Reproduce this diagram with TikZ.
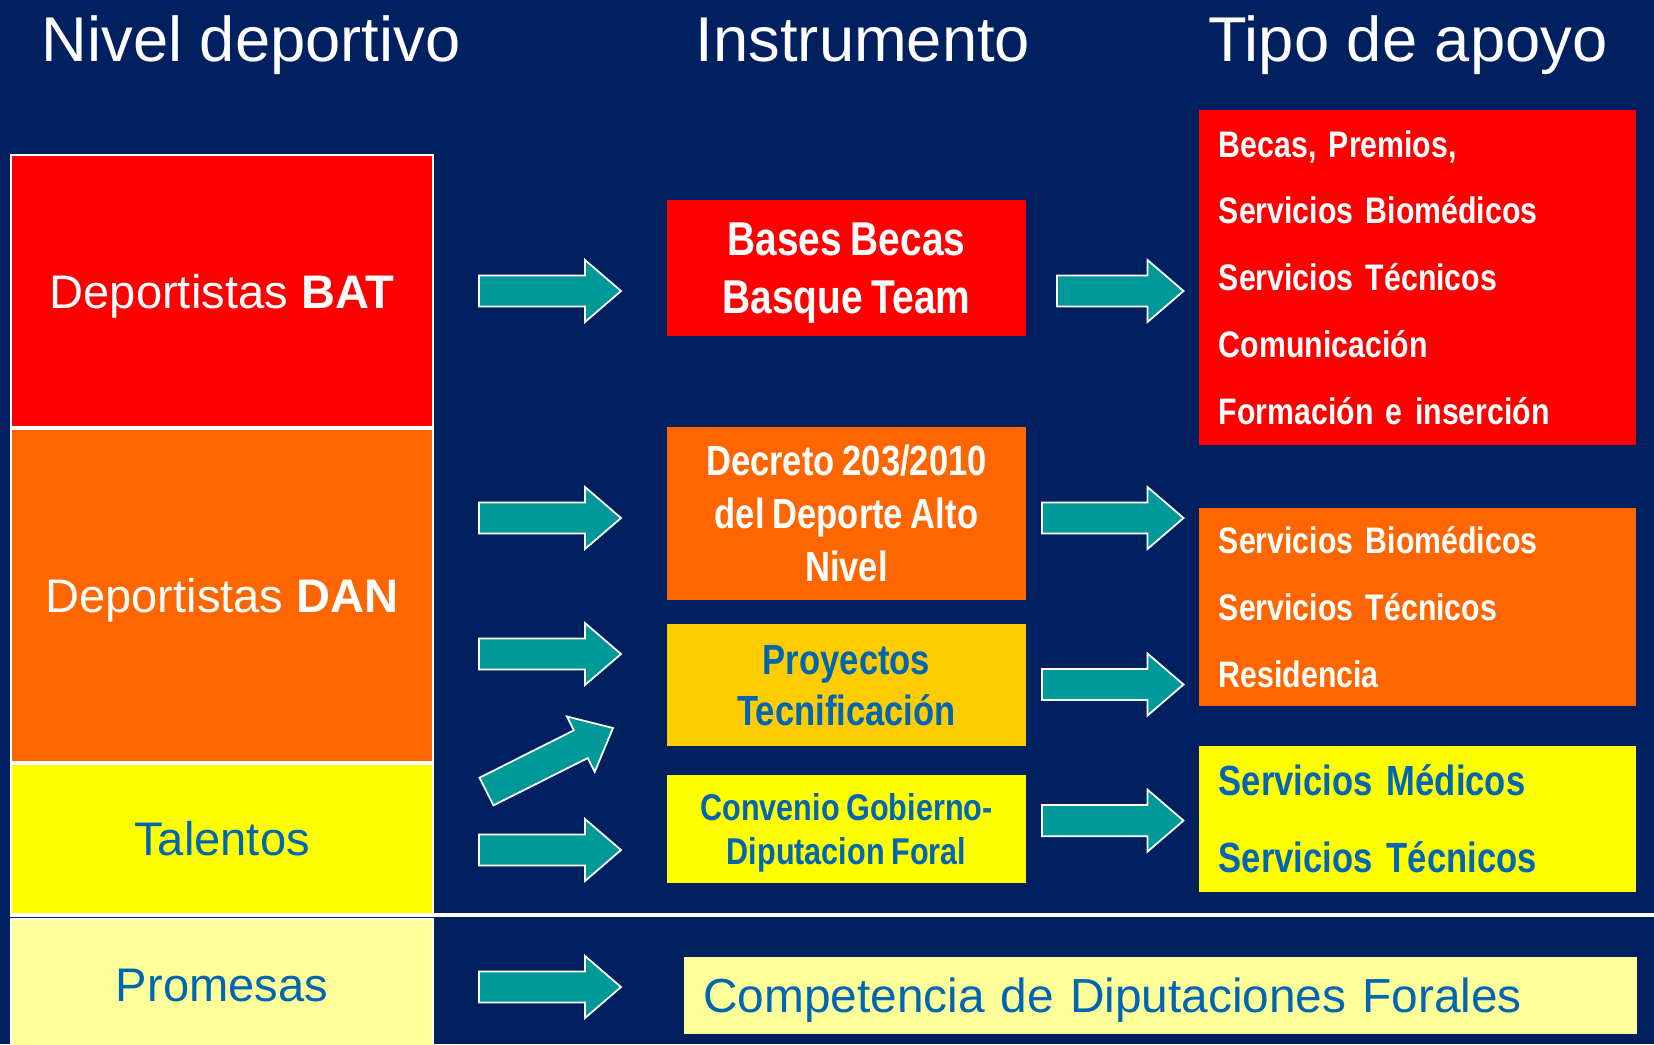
\documentclass[tikz,border=0pt]{standalone}
\usepackage{fontspec}
\setmainfont{Liberation Sans}
\newfontfamily\narrowfont[FakeStretch=0.82, WordSpace=0.8]{Liberation Sans}
\usetikzlibrary{calc, positioning}
\definecolor{navy}{RGB}{0,32,96}
\definecolor{batred}{RGB}{255,0,0}
\definecolor{danorange}{RGB}{255,102,0}
\definecolor{tecgold}{RGB}{255,204,0}
\definecolor{talyellow}{RGB}{255,255,0}
\definecolor{promyellow}{RGB}{255,255,153}
\definecolor{textblue}{RGB}{0,102,179}
\definecolor{arrowteal}{RGB}{0,153,153}
\tikzstyle{level} = [rectangle, draw=white, line width=0.5pt, minimum width=4.22cm, text centered, text depth=0pt, font=\fontsize{13.4}{16}\selectfont]
\tikzstyle{instr} = [rectangle, minimum width=3.59cm, text depth=0pt, align=center]
\tikzstyle{apoyo} = [rectangle, minimum width=4.37cm, text width=3.97cm, inner xsep=0.2cm, align=left]
\tikzstyle{title} = [text=white, anchor=base, font=\fontsize{18}{22}\selectfont]
\tikzstyle{barrow} = [fill=arrowteal, draw=white, line width=0.5pt, line join=miter]
\newcommand{\blockarrow}[2]{%
	\coordinate (#1-#2-h) at ($(#2)!0.36cm!(#1)$);
	\draw[barrow] ($(#1)!0.155cm!90:(#2)$) -- ($(#1-#2-h)!0.155cm!90:(#2)$) -- ($(#1-#2-h)!0.31cm!90:(#2)$) -- (#2)
		-- ($(#1-#2-h)!0.31cm!-90:(#2)$) -- ($(#1-#2-h)!0.155cm!-90:(#2)$) -- ($(#1)!0.155cm!-90:(#2)$) -- cycle;
}

\begin{document}
\begin{tikzpicture}[x=0.01cm, y=-0.01cm]
		\fill[navy] (0,0) rectangle (1654,1044);
		\useasboundingbox (0,0) rectangle (1654,1044);
		
		\node (TitleNivel) [title] at (251,61) {Nivel deportivo};
		\node (TitleInstr) [title] at (863,61) {Instrumento};
		\node (TitleApoyo) [title] at (1408,61) {Tipo de apoyo};
		
		\node (BAT) [level, fill=batred, text=white, minimum height=2.72cm] at (222,291) {Deportistas \textbf{BAT}};
		\node (DAN) [level, fill=danorange, text=white, minimum height=3.33cm, below = 0pt of BAT] {Deportistas \textbf{DAN}};
		\node (Talentos) [level, fill=talyellow, text=textblue, minimum height=1.5cm, below = 0pt of DAN] {Talentos};
		\node (Promesas) [level, fill=promyellow, text=textblue, minimum height=1.34cm, below = 0.03cm of Talentos] {Promesas};
		\draw[white, line width=1.1pt] (Talentos.south west) -- ($(Talentos.south east)+(1222,0)$);
		
		\node (Bases) [instr, fill=batred, text=white, minimum height=1.365cm, font=\narrowfont\bfseries\fontsize{13.5}{16.5}\selectfont] at (846.5,268) {Bases Becas\\Basque Team};
		\node (Decreto) [instr, fill=danorange, text=white, minimum height=1.73cm, font=\narrowfont\bfseries\fontsize{12}{15.1}\selectfont] at (846.5,513.5) {Decreto 203/2010\\del Deporte Alto\\Nivel};
		\node (Proyectos) [instr, fill=tecgold, text=textblue, minimum height=1.22cm, font=\narrowfont\bfseries\fontsize{12}{14.5}\selectfont] at (846.5,685) {Proyectos\\Tecnificación};
		\node (Convenio) [instr, fill=talyellow, text=textblue, minimum height=1.08cm, font=\narrowfont\bfseries\fontsize{10.6}{12.5}\selectfont] at (846.5,829) {Convenio Gobierno-\\Diputacion Foral};
		
		\node (ApoyoBAT) [apoyo, fill=batred, text=white, minimum height=3.35cm, font=\narrowfont\bfseries\fontsize{10.5}{19}\selectfont] at (1417.5,277.5) {Becas, Premios,\\Servicios Biomédicos\\Servicios Técnicos\\Comunicación\\Formación e inserción};
		\node (ApoyoDAN) [apoyo, fill=danorange, text=white, minimum height=1.98cm, font=\narrowfont\bfseries\fontsize{10.5}{19}\selectfont] at (1417.5,607) {Servicios Biomédicos\\Servicios Técnicos\\Residencia};
		\node (ApoyoTal) [apoyo, fill=talyellow, text=textblue, minimum height=1.46cm, font=\narrowfont\bfseries\fontsize{12}{21.9}\selectfont] at (1417.5,819) {Servicios Médicos\\Servicios Técnicos};
		
		\node (Competencia) [rectangle, fill=promyellow, text=textblue, minimum height=0.77cm, text width=9.145cm, inner xsep=0.19cm, text depth=0pt, align=left, anchor=west, font=\fontsize{13.6}{16}\selectfont] at (683.5,995.5) {Competencia de Diputaciones Forales};
		
		\coordinate (InBAT) at (479,291);
		\coordinate (InBATTip) at (621,291);
		\coordinate (InDAN) at (479,518);
		\coordinate (InDANTip) at (621,518);
		\coordinate (InTec) at (479,654);
		\coordinate (InTecTip) at (621,654);
		\coordinate (InTal) at (486.5,791.5);
		\coordinate (InTalTip) at (613,728);
		\coordinate (InConv) at (479,850);
		\coordinate (InConvTip) at (621,850);
		\coordinate (InProm) at (479,987);
		\coordinate (InPromTip) at (621,987);
		\coordinate (OutBAT) at (1057,291);
		\coordinate (OutBATTip) at (1183.5,291);
		\coordinate (OutDAN) at (1042,518);
		\coordinate (OutDANTip) at (1183.5,518);
		\coordinate (OutTec) at (1042,684.5);
		\coordinate (OutTecTip) at (1183.5,684.5);
		\coordinate (OutConv) at (1042,820.6);
		\coordinate (OutConvTip) at (1183.5,820.6);
		
		\blockarrow{InBAT}{InBATTip}
		\blockarrow{InDAN}{InDANTip}
		\blockarrow{InTec}{InTecTip}
		\blockarrow{InTal}{InTalTip}
		\blockarrow{InConv}{InConvTip}
		\blockarrow{InProm}{InPromTip}
		\blockarrow{OutBAT}{OutBATTip}
		\blockarrow{OutDAN}{OutDANTip}
		\blockarrow{OutTec}{OutTecTip}
		\blockarrow{OutConv}{OutConvTip}
		
\end{tikzpicture}
\end{document}
